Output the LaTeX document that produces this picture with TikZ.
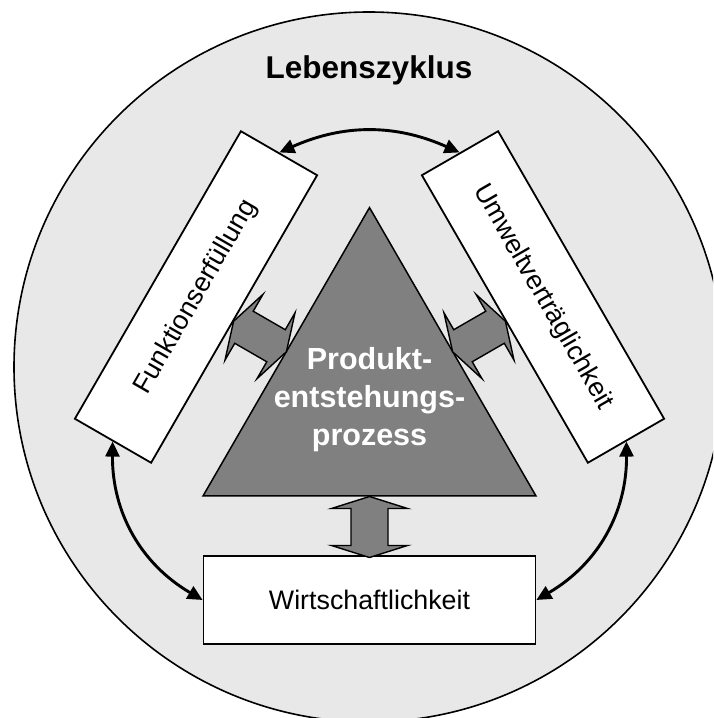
\documentclass[tikz,border=0pt]{standalone}
\usepackage{fontspec}
\setmainfont{Liberation Sans}
\usetikzlibrary{arrows.meta}
\definecolor{bgray}{HTML}{E8E8E8}
\definecolor{dgray}{HTML}{808080}
\begin{document}
\begin{tikzpicture}[x=1pt,y=1pt,
  box/.style={draw, line width=1.8pt, fill=white, minimum width=332pt, minimum height=88pt, inner sep=0pt, font=\fontsize{26.8}{30}\selectfont},
  link/.style={line width=2.9pt, {Triangle[length=15pt,width=14pt]}-{Triangle[length=15pt,width=14pt]}},
  blockfill/.style={draw, line width=1.4pt, fill=dgray, line join=miter},
  dblarrow/.pic={\path[blockfill] (-30.5,0) -- (-18.5,38) -- (-18.5,18.5) -- (18.5,18.5) -- (18.5,38) -- (30.5,0) -- (18.5,-38) -- (18.5,-18.5) -- (-18.5,-18.5) -- (-18.5,-38) -- cycle;}
]
\useasboundingbox (0,0) rectangle (713,718);
\clip (0,0) rectangle (713,718);
\fill[white] (0,0) rectangle (713,718);
% life cycle circle
\node[circle, draw, line width=1.6pt, fill=bgray, minimum size=710pt, inner sep=0pt] (cyc) at (369,351) {};
\node[anchor=base, font=\fontsize{31.5}{36}\selectfont\bfseries] (title) at (369,639) {Lebenszyklus};
% central triangle
\draw[line width=1.5pt, fill=dgray, line join=miter] (203,222) coordinate (tl) -- (369.5,510.4) coordinate (tt) -- (536,222) coordinate (tr) -- cycle;
\node[align=center, text=white, font=\fontsize{30.5}{38}\selectfont\bfseries] (pep) at (369.5,318.5) {Produkt-\\entstehungs-\\prozess};
% boxes
\node[box, rotate=60] (lbox) at (196,421) {Funktionserfüllung};
\node[box, rotate=-60] (rbox) at (543,421) {Umweltverträglichkeit};
\node[box] (bbox) at (369.5,118) {Wirtschaftlichkeit};
% block arrows
\pic[rotate=90] at (369.5,191) {dblarrow};
\pic[rotate=-30] at (260,381.5) {dblarrow};
\pic[rotate=30] at (479,381.5) {dblarrow};
% curved links
\draw[link] (lbox.east) to[bend left=24] (rbox.west);
\draw[link] (lbox.west) to[bend right=30] (bbox.west);
\draw[link] (rbox.east) to[bend left=30] (bbox.east);
\end{tikzpicture}
\end{document}
